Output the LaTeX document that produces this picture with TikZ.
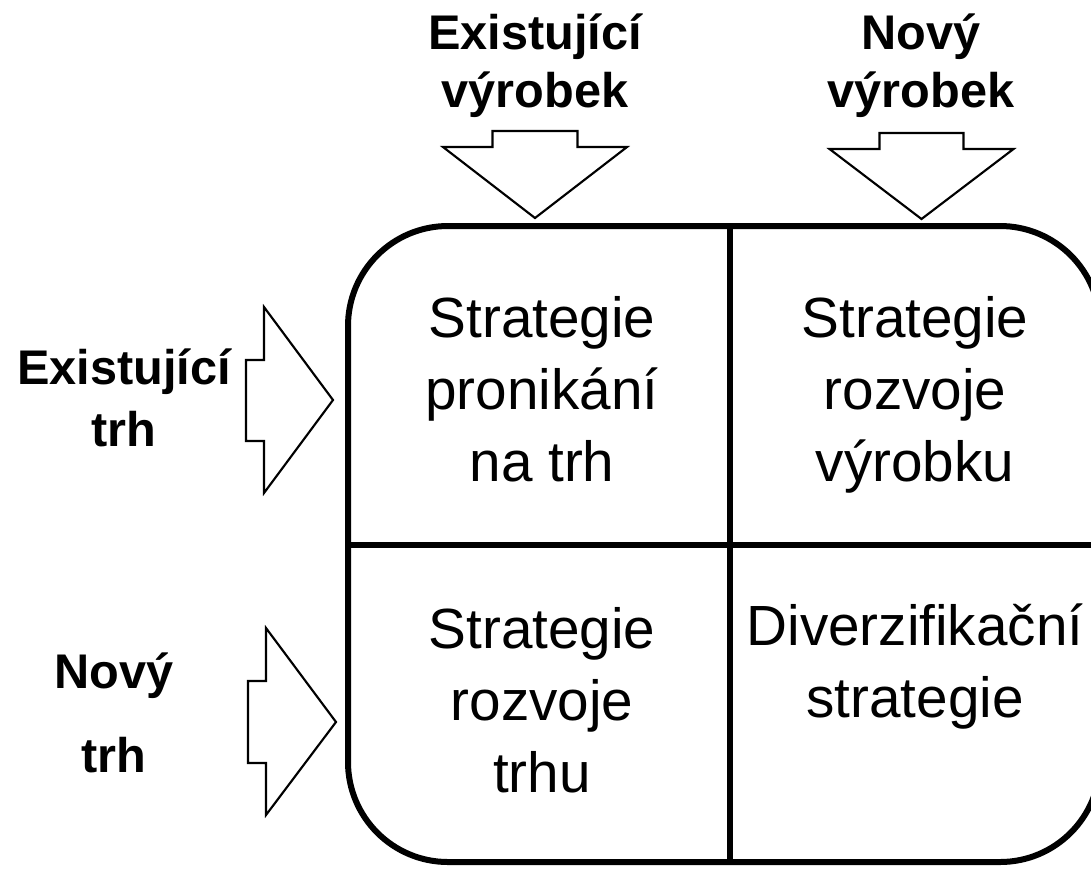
\documentclass[tikz,border=0pt]{standalone}
\usepackage{fontspec}
\setmainfont{Liberation Sans}
\begin{document}
\begin{tikzpicture}[x=0.75pt,y=-0.75pt,
  blockarrow/.style={draw=black,line width=1.6pt,fill=white,line join=miter},
  celltext/.style={align=center,font=\fontsize{42.5pt}{54pt}\selectfont,inner sep=0pt,anchor=base},
  headtext/.style={align=center,font=\fontsize{36.5pt}{43pt}\selectfont\bfseries,inner sep=0pt,anchor=base},
  frame/.style={draw=black,line width=4.5pt,rounded corners=75pt},
  divider/.style={draw=black,line width=3.8pt}]
\useasboundingbox (0,0) rectangle (1091,869);
\clip (0,0) rectangle (1091,869);
\fill[white] (0,0) rectangle (1091,869);

% main frame
\draw[frame] (348,226) rectangle (1100,862);
\coordinate (vt) at (730,226);
\coordinate (vb) at (730,862);
\coordinate (hl) at (348,545);
\coordinate (hr) at (1100,545);
\draw[divider] (vt) -- (vb);
\draw[divider] (hl) -- (hr);

% top arrows
\draw[blockarrow] (492.5,131) -- (577.5,131) -- (577.5,147) -- (627,147) -- (535,218)
  -- (443,147) -- (492.5,147) -- cycle;
\draw[blockarrow] (879.5,133) -- (963.5,133) -- (963.5,149) -- (1013.5,149) -- (921.5,219)
  -- (829.5,149) -- (879.5,149) -- cycle;

% left arrows
\draw[blockarrow] (246,360) -- (264,360) -- (264,307) -- (333,400) -- (264,493)
  -- (264,441) -- (246,441) -- cycle;
\draw[blockarrow] (248,681) -- (266,681) -- (266,628) -- (336,722) -- (266,815)
  -- (266,763) -- (248,763) -- cycle;

% header labels (anchor = baseline of last line)
\node[headtext] (h1) at (535,107) {Existující\\výrobek};
\node[headtext] (h2) at (921,107) {Nový\\výrobek};
\node[headtext] (l1) at (124,446) {Existující\\[3pt]trh};
\node[headtext] (l2) at (114,772) {Nový\\[20pt]trh};

% cell texts (anchor = baseline of last line)
\node[celltext] (c1) at (542,481) {Strategie\\pronikání\\na trh};
\node[celltext] (c2) at (915,481) {Strategie\\rozvoje\\výrobku};
\node[celltext] (c3) at (542,792) {Strategie\\rozvoje\\trhu};
\node[celltext] (c4) at (915,717) {Diverzifikační\\strategie};
\end{tikzpicture}
\end{document}
